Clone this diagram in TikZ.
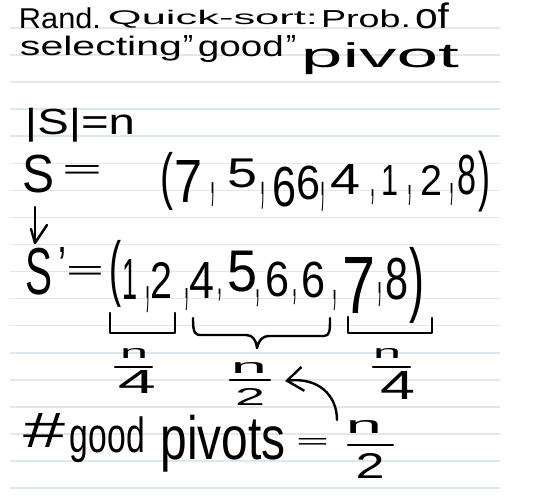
\documentclass[tikz,border=0pt]{standalone}
\usepackage{fontspec}
\setmainfont{Liberation Sans}
\usepackage{graphicx}
\usetikzlibrary{arrows.meta}
\definecolor{rulecol}{RGB}{222,232,240}
\tikzset{
  hw/.style={inner sep=0pt, outer sep=0pt, text=black},
  pen/.style={line width=2.4pt, line cap=round, line join=round, black},
  ruling/.style={line width=1.6pt, rulecol}
}
\newcommand\fitbox[3]{\resizebox*{#1pt}{#2pt}{#3}}
% quote / prime glyph, box trimmed to its ink
\newcommand\qmark[5]{\raisebox{-#3pt}[#4pt][0pt]{\fitbox{#1}{#2}{#5}}}
\begin{document}
\begin{tikzpicture}[x=1pt,y=-1pt]
\useasboundingbox (0,0) rectangle (553,495);
\fill[white] (0,0) rectangle (553,495);
% ruled paper
\foreach \k in {0,...,17}{
  \draw[ruling] (10,{28+27.06*\k}) -- (500,{28+27.06*\k});
}
% title lines
\node[hw] (rand)  at (60,18)    {\fitbox{82}{21}{Rand.}};
\node[hw] (quick) at (213,19)   {\fitbox{210}{18}{Quick-sort:}};
\node[hw] (prob)  at (366,19)   {\fitbox{90}{18}{Prob.}};
\node[hw] (of)    at (432,16)   {\fitbox{34}{26}{of}};
\node[hw] (sel)   at (101,48.5) {\fitbox{162}{25}{selecting}};
\node[hw] (q1)    at (188,38.5) {\qmark{10}{21}{14}{7}{\char34}};
\node[hw] (good)  at (241,49)   {\fitbox{86}{27}{good}};
\node[hw] (q2)    at (291,39)   {\qmark{10}{21}{14}{7}{\char34}};
\node[hw] (pivot) at (380,59)   {\fitbox{158}{32}{pivot}};
\node[hw] (card)  at (80,125)   {\fitbox{110}{34}{|S|=n}};
% S row
\node[hw] (S)   at (39,174)   {\fitbox{32}{38}{S}};
\node[hw] (eq1) at (82,171.5) {\fitbox{40}{13}{=}};
\node[hw] (lp1) at (167,181)  {\fitbox{13}{58}{(}};
\node[hw] (a7)  at (188,181)  {\fitbox{28}{42}{7}};
\node[hw] (ac1) at (213,195)  {\fitbox{5}{24}{,}};
\node[hw] (a5)  at (242,173)  {\fitbox{30}{29}{5}};
\node[hw] (ac2) at (263,196)  {\fitbox{5}{27}{,}};
\node[hw] (a6a) at (284,187)  {\fitbox{24}{40}{6}};
\node[hw] (a6b) at (308,183)  {\fitbox{24}{34}{6}};
\node[hw] (ac3) at (323,197)  {\fitbox{5}{29}{,}};
\node[hw] (a4)  at (345,179)  {\fitbox{30}{30}{4}};
\node[hw] (ac4) at (373,197)  {\fitbox{5}{15}{,}};
\node[hw] (a1)  at (390,180)  {\fitbox{17}{30}{1}};
\node[hw] (ac5) at (410,195)  {\fitbox{5}{20}{,}};
\node[hw] (a2)  at (431,180)  {\fitbox{22}{30}{2}};
\node[hw] (ac6) at (452,194)  {\fitbox{5}{22}{,}};
\node[hw] (a8)  at (466.5,175){\fitbox{19}{40}{8}};
\node[hw] (rp1) at (484.5,182){\fitbox{12}{61}{)}};
% arrow S -> S'
\coordinate (arrA) at (35,207);
\coordinate (arrB) at (35,243);
\draw[pen] (arrA) -- (arrB);
\draw[pen] (31,229) -- (arrB) -- (47,225);
% S' row
\node[hw] (Sp)    at (38.5,271.5) {\fitbox{27}{47}{S}};
\node[hw] (prime) at (62,254)     {\qmark{8}{36}{23}{13}{\char39}};
\node[hw] (eq2)   at (85,272.5)   {\fitbox{38}{13}{=}};
\node[hw] (lp2)   at (115,273.5)  {\fitbox{12}{67}{(}};
\node[hw] (b1)  at (130,279) {\fitbox{15}{40}{1}};
\node[hw] (bc1) at (148,300) {\fitbox{5}{26}{,}};
\node[hw] (b2)  at (161,280) {\fitbox{22}{36}{2}};
\node[hw] (bc2) at (187,299) {\fitbox{5}{22}{,}};
\node[hw] (b4)  at (202,280) {\fitbox{25}{36}{4}};
\node[hw] (bc3) at (220,295) {\fitbox{5}{12}{,}};
\node[hw] (b5)  at (242,272) {\fitbox{30}{41}{5}};
\node[hw] (bc4) at (258,298) {\fitbox{5}{17}{,}};
\node[hw] (b6a) at (277,279) {\fitbox{24}{35}{6}};
\node[hw] (bc5) at (295,297) {\fitbox{5}{15}{,}};
\node[hw] (b6b) at (313,280) {\fitbox{24}{36}{6}};
\node[hw] (bc6) at (335,300) {\fitbox{5}{20}{,}};
\node[hw] (b7)  at (359,285) {\fitbox{33}{56}{7}};
\node[hw] (bc7) at (380,295) {\fitbox{5}{24}{,}};
\node[hw] (b8)  at (397,279) {\fitbox{23}{42}{8}};
\node[hw] (rp2) at (417,285) {\fitbox{15}{76}{)}};
% brackets
\draw[pen] (110,313) -- (110,333) -- (175,333) -- (175,313);
\draw[pen] (193,318) .. controls (193,334) and (195,335) .. (202,335) -- (246,335)
  .. controls (253,335) and (256,340) .. (257,348)
  .. controls (259,340) and (262,336) .. (270,336) -- (324,336)
  .. controls (330,336) and (330,330) .. (330,318);
\draw[pen] (348,317) -- (348,333) -- (432,333) -- (432,318);
% fractions under brackets
\node[hw] (n1) at (134,353) {\fitbox{28}{10}{n}};
\draw[pen] (115,367) -- (152,367);
\node[hw] (d1) at (137,382) {\fitbox{38}{23}{4}};
\node[hw] (n2) at (249,367.5) {\fitbox{36}{11}{n}};
\draw[pen] (230,380) -- (270,380);
\node[hw] (d2) at (250,396.5) {\fitbox{30}{17}{2}};
\node[hw] (n3) at (387,353) {\fitbox{28}{10}{n}};
\draw[pen] (373,367) -- (410,367);
\node[hw] (d3) at (398,385) {\fitbox{35}{28}{4}};
% bottom line
\node[hw] (hash)   at (45,430)    {\fitbox{42}{34}{\#}};
\node[hw] (good2)  at (107.5,440) {\fitbox{75}{46}{good}};
\node[hw] (pivots) at (223,443.5) {\fitbox{125}{57}{pivots}};
\node[hw] (eq3)    at (312.5,443) {\fitbox{33}{10}{=}};
\node[hw] (n4) at (364,426.5) {\fitbox{36}{13}{n}};
\draw[pen] (348,445) -- (393,445);
\node[hw] (d4) at (370,465.5) {\fitbox{29}{25}{2}};
% curved arrow
\coordinate (cst) at (337,420);
\coordinate (ctip) at (285,381);
\draw[pen, -{Straight Barb[length=16pt,width=24pt]}] (cst) .. controls (337,395) and (318,377) .. (ctip);
\end{tikzpicture}
\end{document}
